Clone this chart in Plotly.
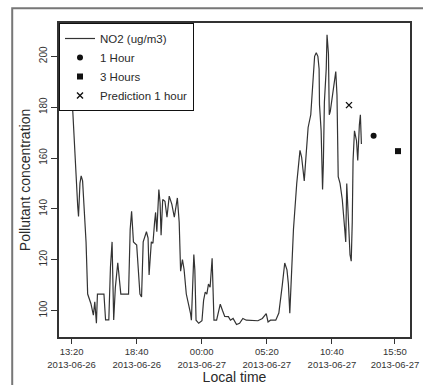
import pandas as pd
import plotly.graph_objects as go

# ---- data ----
start_time = "2013-06-26 13:20"
# minutes after start_time for each NO2 observation
no2_minutes = [0, 6, 30, 34, 41, 47, 54, 71, 79, 95, 107, 114, 122, 127, 159, 167, 183, 191, 199, 207,
               215, 227, 242, 280, 288, 295, 304, 320, 336, 344, 352, 368, 376, 381, 392, 400, 408, 413, 419, 429,
               435, 440, 448, 459, 469, 480, 493, 505, 520, 529, 536, 545, 553, 564, 585, 589, 601, 606, 612, 625,
               641, 649, 657, 665, 673, 681, 691, 694, 700, 713, 731, 742, 753, 771, 781, 794, 811, 826, 842, 859,
               882, 916, 938, 957, 966, 978, 1004, 1019, 1036, 1048, 1059, 1066, 1073, 1079, 1091, 1107, 1123, 1131, 1144, 1150,
               1163, 1176, 1187, 1195, 1203, 1211, 1217, 1219, 1227, 1234, 1238, 1243, 1252, 1256, 1263, 1267, 1272, 1283, 1292, 1299,
               1305, 1307, 1311, 1320, 1331, 1343, 1348, 1353, 1360, 1369, 1375, 1380, 1384, 1391, 1401, 1407, 1415, 1420, 1425]
no2_values = [184, 178, 141, 137, 150, 153, 151, 127, 106.5, 102.7, 98.2, 103.4, 95, 106.5, 106.5, 96.3, 96.3, 117, 127, 96.3,
              109, 118.8, 106.5, 106.5, 132, 139, 127, 125.8, 106.5, 105.3, 127, 131, 128.5, 114, 127, 126.5, 134.7, 138.6, 131, 147.6,
              142.4, 129.6, 143.7, 143, 136.7, 145, 141.8, 136.7, 144.3, 134.7, 115.5, 120, 116.2, 106.5, 98.8, 96.2, 122, 116, 96.2, 95,
              96, 104, 107.3, 106.5, 110.4, 109.2, 120.6, 113, 96.2, 96.2, 102.5, 100, 97.7, 97.6, 96.2, 96.9, 94.5, 95, 96.9, 96.2,
              96.2, 96, 96.9, 98.8, 95.5, 96.2, 96.2, 99, 110, 118.7, 116, 110.4, 99, 110, 132, 150, 163, 160.4, 151, 157.8,
              172, 177, 188.6, 200, 201.4, 200, 195, 181, 170.7, 147.6, 157.8, 182, 195, 208.5, 201, 177, 178.3, 184.7, 191, 194,
              184.7, 163, 152.7, 150, 143.7, 132, 127, 150, 138.6, 122, 119.4, 134.7, 159, 170.7, 166.8, 159, 173, 177, 165.5]

pred_1h_time = ["2013-06-27 14:05"]
pred_1h_value = [168.8]
pred_3h_time = ["2013-06-27 16:05"]
pred_3h_value = [162.7]
pred_x_time = ["2013-06-27 12:04"]
pred_x_value = [180.8]

x_tick_vals = ["2013-06-26 13:20", "2013-06-26 18:40", "2013-06-27 00:00",
               "2013-06-27 05:20", "2013-06-27 10:40", "2013-06-27 15:50"]
x_tick_text = ["13:20<br>2013-06-26", "18:40<br>2013-06-26", "00:00<br>2013-06-27",
               "05:20<br>2013-06-27", "10:40<br>2013-06-27", "15:50<br>2013-06-27"]
y_tick_vals = [100, 120, 140, 160, 180, 200]

no2_times = pd.Timestamp(start_time) + pd.to_timedelta(no2_minutes, unit="min")

INK = "#2a2a2a"
fig = go.Figure()
fig.add_trace(go.Scatter(x=no2_times, y=no2_values, mode="lines", name="NO2 (ug/m3)",
                         line=dict(color="#333333", width=1.2)))
fig.add_trace(go.Scatter(x=pred_1h_time, y=pred_1h_value, mode="markers", name="1 Hour",
                         marker=dict(symbol="circle", size=6, color="#111")))
fig.add_trace(go.Scatter(x=pred_3h_time, y=pred_3h_value, mode="markers", name="3 Hours",
                         marker=dict(symbol="square", size=6, color="#111")))
fig.add_trace(go.Scatter(x=pred_x_time, y=pred_x_value, mode="markers", name="Prediction 1 hour",
                         marker=dict(symbol="x-thin", size=6, color="#111",
                                     line=dict(width=1.4, color="#111"))))

fig.update_layout(
    width=423, height=385,
    margin=dict(l=59, r=4, t=23, b=41),
    paper_bgcolor="white", plot_bgcolor="white",
    font=dict(family="Liberation Sans, Arial, sans-serif", color=INK, size=10),
    showlegend=True,
    legend=dict(x=0, y=1, xanchor="left", yanchor="top",
                bgcolor="white", bordercolor="#111", borderwidth=1,
                font=dict(size=11.5, color=INK), itemwidth=30,
                tracegroupgap=0),
    xaxis=dict(type="date", range=["2013-06-26 12:18", "2013-06-27 17:04"],
               tickmode="array", tickvals=x_tick_vals, ticktext=x_tick_text,
               ticklabeloverflow="allow",
               ticks="outside", ticklen=5, tickcolor="#333", tickwidth=1,
               showline=True, linecolor="#333", linewidth=1.5, mirror=True,
               showgrid=False, zeroline=False,
               tickfont=dict(size=9.5, color="#333"),
               title=dict(text="Local time", font=dict(size=14, color=INK), standoff=2)),
    yaxis=dict(range=[89.6, 213.1], tickmode="array", tickvals=y_tick_vals,
               ticks="outside", ticklen=6, tickcolor="#333", tickwidth=1,
               tickangle=-90,
               showline=True, linecolor="#333", linewidth=1.5, mirror=True,
               showgrid=False, zeroline=False,
               tickfont=dict(size=10, color="#333"),
               title=dict(text="Pollutant concentration", font=dict(size=14, color=INK), standoff=4)),
    shapes=[dict(type="rect", xref="paper", yref="paper",
                 x0=-0.1333, x1=1.05, y0=-0.16, y1=1.0467,
                 line=dict(color="#777", width=2), layer="below")],
)

fig.write_html("out.html")
